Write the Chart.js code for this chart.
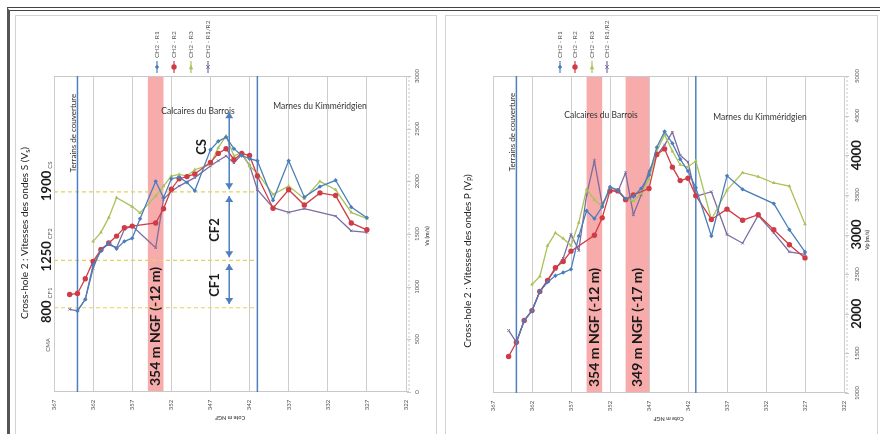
<!DOCTYPE html>
<html>
<head>
<meta charset="utf-8">
<script src="https://cdn.jsdelivr.net/npm/chart.js@4.4.1/dist/chart.umd.min.js"></script>
<style>
    html, body { margin: 0; padding: 0; background: #fff; }
    #page { position: relative; width: 880px; height: 434px; overflow: hidden; background: #fff; }
    #frame { position: absolute; left: 7px; top: 7px; width: 900px; height: 460px; border-top: 4px double #444; border-left: 3px solid #555; }
    .panel { position: absolute; top: 15px; height: 440px; border: 1px solid #d2d2d2; }
    #p1 { left: 15px; width: 420px; }
    #p2 { left: 445px; width: 431px; }
    canvas { position: absolute; top: 0; }
    #chartS { left: 0; }
    #chartP { left: 440px; }
</style>
</head>
<body>
<div id="page">
    <div id="frame"></div>
    <div class="panel" id="p1"></div>
    <div class="panel" id="p2"></div>
    <canvas id="chartS" width="440" height="434"></canvas>
    <canvas id="chartP" width="440" height="434"></canvas>
</div>
<script>
// --- data ---
const seriesNames = ['CH2 - R1', 'CH2 - R2', 'CH2 - R3', 'CH2 - R1/R2'];
const cotesTicks = [367, 362, 357, 352, 347, 342, 337, 332, 327, 322];

// S waves (left chart)
const cotesS = [365, 364, 363, 362, 361, 360, 359, 358, 357, 356, 354, 353, 352, 351, 350, 349, 347, 346, 345, 344, 343, 342, 341, 339, 337, 335, 333, 331, 329, 327];
const vsR1  = [null, 770, 880, 1205, 1340, 1415, 1360, 1430, 1460, 1645, 2000, 1845, 2025, 2040, 1990, 1910, 2300, 2380, 2420, 2310, 2245, 2215, 2195, 1820, 2195, 1850, 1950, 2010, 1755, 1655];
const vsR2  = [925, 935, 1075, 1240, 1350, 1415, 1480, 1560, 1575, null, 1605, 1740, 1925, 2025, 2045, 2070, 2180, 2265, 2310, 2205, 2265, 2245, 2050, 1745, 1920, 1775, 1890, 1865, 1605, 1540];
const vsR3  = [null, null, null, 1430, 1515, 1655, 1845, null, 1760, 1700, 1860, 1955, 2050, 2065, 2050, 2110, 2160, 2320, 2430, 2240, 2275, 2145, 2080, 1875, 1955, 1835, 2000, 1920, 1705, 1645];
const vsR12 = [785, 770, 880, 1175, 1360, 1400, 1370, 1545, 1575, null, 1370, 1830, 1905, 1955, null, 2035, 2145, 2195, 2240, 2175, 2255, 2155, 1920, 1750, 1705, 1740, null, 1670, 1530, 1515];
const vsTicks = [0, 500, 1000, 1500, 2000, 2500, 3000];

// P waves (right chart)
const cotesP = [365, 364, 363, 362, 361, 360, 359, 358, 357, 356, 355, 354, 353, 352, 351, 350, 349, 348, 347, 346, 345, 344, 343, 342, 341, 339, 337, 335, 333, 331, 329, 327];
const vpR1  = [null, 1640, 1915, 2040, 2280, 2400, 2480, 2520, 2560, 2980, 3300, 3200, 3350, 3600, 3560, 3450, 3480, 3580, 3750, 4100, 4300, 4150, 3950, 3800, 3590, 2980, 3740, 3570, null, 3390, 3060, 2780];
const vpR2  = [1460, 1640, 1915, 2040, 2280, 2420, 2580, 2660, 2790, null, null, 2990, 3210, 3550, 3550, 3440, 3500, null, 3580, 4010, 4080, 3850, 3680, 3710, 3490, 3190, 3320, 3180, 3250, 3060, 2870, 2705];
const vpR3  = [null, null, null, 2370, 2470, 2860, 3020, 2950, 2860, 3150, 3570, 3440, 3350, 3590, 3550, 3450, 3420, 3520, 3700, 4050, 4260, 4050, 3880, 3850, 3930, 3190, 3560, 3780, 3730, 3650, 3610, 3130];
const vpR12 = [1790, 1640, 1915, 2040, 2280, 2420, 2560, 2700, 3000, 2800, 3500, 3930, 3380, 3560, 3540, 3780, 3250, 3500, 3800, 4000, 4130, 4290, 4000, 3915, 3480, 3540, 3000, 2890, 3240, 3020, 2780, 2750];
const vpTicks = [1000, 1500, 2000, 2500, 3000, 3500, 4000, 4500, 5000];
const vpBoldTicks = [2000, 3000, 4000];

// geology / annotations
const layerBounds = [364, 341];
const bandsS = [[355, 353]];
const bandsP = [[355, 353], [350, 347]];
const bandLabelsS = ['354 m NGF (-12 m)'];
const bandLabelsP = ['354 m NGF (-12 m)', '349 m NGF (-17 m)'];
const classLevels = [800, 1250, 1900];
const classNames = ['CF1', 'CF2', 'CS'];
const classRanges = [[835, 1215], [1280, 1860], [1925, 2655]];
const classCote = 344.6;

const seriesColors = ['#4a7ebb', '#d03c46', '#a9c25a', '#7d6c9e'];
const pointStyles = ['rectRot', 'circle', 'triangle', 'crossRot'];
const pointSizes = [2.2, 2.7, 2.2, 1.8];
const FONT = 'Lato, "Open Sans", sans-serif';

function vText(ctx, txt, x, y, font, color, align, angle) {
    ctx.save();
    ctx.translate(x, y);
    ctx.rotate(angle === undefined ? -Math.PI / 2 : angle);
    ctx.font = font;
    ctx.fillStyle = color;
    ctx.textAlign = align || 'center';
    ctx.textBaseline = 'middle';
    ctx.fillText(txt, 0, 0);
    ctx.restore();
}

function marker(ctx, i, x, y) {
    const r = pointSizes[i];
    ctx.fillStyle = seriesColors[i];
    ctx.strokeStyle = seriesColors[i];
    ctx.beginPath();
    if (i === 0) { ctx.moveTo(x, y - r); ctx.lineTo(x + r, y); ctx.lineTo(x, y + r); ctx.lineTo(x - r, y); ctx.closePath(); ctx.fill(); }
    else if (i === 1) { ctx.arc(x, y, r, 0, Math.PI * 2); ctx.fill(); }
    else if (i === 2) { ctx.moveTo(x, y - r); ctx.lineTo(x + r, y + r); ctx.lineTo(x - r, y + r); ctx.closePath(); ctx.fill(); }
    else { ctx.lineWidth = 1; ctx.moveTo(x - r, y - r); ctx.lineTo(x + r, y + r); ctx.moveTo(x + r, y - r); ctx.lineTo(x - r, y + r); ctx.stroke(); }
}

function arrowHead(ctx, x, y, dir) {
    ctx.beginPath();
    ctx.moveTo(x, y);
    ctx.lineTo(x - 4, y - dir * 6);
    ctx.lineTo(x + 4, y - dir * 6);
    ctx.closePath();
    ctx.fill();
}

function decor(conf) {
    return {
        id: 'decor',
        beforeDatasetsDraw(chart) {
            const { ctx, chartArea: a, scales: { x, y } } = chart;
            ctx.save();
            // weak zones
            ctx.fillStyle = '#f8abab';
            conf.bands.forEach(b => {
                const x0 = x.getPixelForValue(b[0]), x1 = x.getPixelForValue(b[1]);
                ctx.fillRect(x0, a.top, x1 - x0, a.bottom - a.top);
            });
            // plot frame
            ctx.strokeStyle = '#c8c8c8';
            ctx.lineWidth = 1;
            ctx.beginPath();
            ctx.moveTo(a.left, a.top + 0.5); ctx.lineTo(a.right, a.top + 0.5);
            ctx.moveTo(a.left, a.bottom - 0.5); ctx.lineTo(a.right + 3, a.bottom - 0.5);
            ctx.stroke();
            ctx.setLineDash([2, 2]);
            ctx.beginPath();
            ctx.moveTo(a.right + 3, a.top); ctx.lineTo(a.right + 3, a.bottom);
            ctx.stroke();
            ctx.setLineDash([]);
            ctx.beginPath();
            conf.yTicks.forEach(v => {
                const py = Math.round(y.getPixelForValue(v)) + 0.5;
                ctx.moveTo(a.right + 1, py); ctx.lineTo(a.right + 5, py);
            });
            ctx.stroke();
            // class thresholds
            if (conf.classes) {
                ctx.strokeStyle = '#e2d35c';
                ctx.lineWidth = 1.1;
                ctx.setLineDash([4, 3]);
                classLevels.forEach(v => {
                    const py = y.getPixelForValue(v);
                    ctx.beginPath();
                    ctx.moveTo(x.getPixelForValue(367), py);
                    ctx.lineTo(x.getPixelForValue(layerBounds[1]), py);
                    ctx.stroke();
                });
                ctx.setLineDash([]);
            }
            // band labels
            conf.bandLabels.forEach((t, i) => {
                const cx = (x.getPixelForValue(conf.bands[i][0]) + x.getPixelForValue(conf.bands[i][1])) / 2;
                vText(ctx, t, cx, a.bottom - 6, 'bold 14px ' + FONT, '#1a1a1a', 'left');
            });
            // layer boundaries
            ctx.strokeStyle = '#4f7fbf';
            ctx.lineWidth = 1.5;
            layerBounds.forEach(c => {
                const px = x.getPixelForValue(c);
                ctx.beginPath(); ctx.moveTo(px, a.top); ctx.lineTo(px, a.bottom); ctx.stroke();
            });
            // layer names
            const L = conf.layers;
            vText(ctx, 'Terrains de couverture', L[0][0], L[0][1], '8px ' + FONT, '#333');
            vText(ctx, 'Calcaires du Barrois', L[1][0], L[1][1], '8.5px ' + FONT, '#333', 'center', 0);
            vText(ctx, 'Marnes du Kimméridgien', L[2][0], L[2][1], '8.5px ' + FONT, '#333', 'center', 0);
            ctx.restore();
        },
        afterDatasetsDraw(chart) {
            if (!conf.classes) return;
            const { ctx, scales: { x, y } } = chart;
            ctx.save();
            const px = x.getPixelForValue(classCote);
            ctx.strokeStyle = '#4f7fbf';
            ctx.fillStyle = '#4f7fbf';
            ctx.lineWidth = 1.5;
            classRanges.forEach((r, i) => {
                const y0 = y.getPixelForValue(r[0]), y1 = y.getPixelForValue(r[1]);
                ctx.beginPath(); ctx.moveTo(px, y0); ctx.lineTo(px, y1); ctx.stroke();
                arrowHead(ctx, px, y0, 1);
                arrowHead(ctx, px, y1, -1);
                const lp = conf.classLabelPos[i];
                vText(ctx, classNames[i], lp[0], lp[1], 'bold 13px ' + FONT, '#1a1a1a');
            });
            ctx.restore();
        },
        afterDraw(chart) {
            const { ctx, chartArea: a, scales: { x, y } } = chart;
            ctx.save();
            // axis ticks
            cotesTicks.forEach(v => vText(ctx, String(v), x.getPixelForValue(v), a.bottom + 13, '6px ' + FONT, '#555'));
            vText(ctx, 'Cote m NGF', (a.left + a.right) / 2, a.bottom + 26, 'bold 5.5px ' + FONT, '#555', 'center', Math.PI);
            conf.yTicks.forEach(v => {
                if (conf.boldTicks && conf.boldTicks.includes(v)) return;
                vText(ctx, String(v), conf.yTickX, y.getPixelForValue(v), '6px ' + FONT, '#555');
            });
            (conf.boldTicks || []).forEach(v => vText(ctx, String(v), conf.yTickX, y.getPixelForValue(v), 'bold 13px ' + FONT, '#1a1a1a'));
            vText(ctx, conf.yTitle, conf.yTickX + 10, conf.yTitleY, 'bold 5.5px ' + FONT, '#555');
            // chart title with subscript
            ctx.translate(conf.titleX, conf.titleY);
            ctx.rotate(-Math.PI / 2);
            ctx.textBaseline = 'middle';
            ctx.fillStyle = '#222';
            const big = '10px ' + FONT, small = '7px ' + FONT;
            ctx.font = big;
            const w1 = ctx.measureText(conf.title[0]).width, w3 = ctx.measureText(')').width;
            ctx.font = small;
            const w2 = ctx.measureText(conf.title[1]).width;
            let sx = -(w1 + w2 + w3) / 2;
            ctx.font = big; ctx.textAlign = 'left';
            ctx.fillText(conf.title[0], sx, 0);
            ctx.font = small; ctx.fillText(conf.title[1], sx + w1, 3);
            ctx.font = big; ctx.fillText(')', sx + w1 + w2, 0);
            ctx.setTransform(1, 0, 0, 1, 0, 0);
            // class levels on the left
            if (conf.classes) {
                classLevels.forEach((v, i) => {
                    const py = y.getPixelForValue(v) + conf.levelShift[i];
                    ctx.font = 'bold 13px ' + FONT;
                    const w = ctx.measureText(String(v)).width;
                    vText(ctx, String(v), 47, py, 'bold 13px ' + FONT, '#1a1a1a');
                    vText(ctx, classNames[i], 50, py - w / 2 - 2, '6px ' + FONT, '#555', 'left');
                });
                vText(ctx, 'CMA', 48, 345, '6px ' + FONT, '#555');
            }
            // legend
            conf.legendX.forEach((lx, i) => {
                ctx.strokeStyle = seriesColors[i];
                ctx.lineWidth = 1.2;
                ctx.beginPath(); ctx.moveTo(lx, 73); ctx.lineTo(lx, 61); ctx.stroke();
                marker(ctx, i, lx, 67);
                vText(ctx, seriesNames[i], lx, 58, '6.5px ' + FONT, '#555', 'left');
            });
            ctx.restore();
        }
    };
}

function buildChart(canvas, conf) {
    return new Chart(canvas, {
        type: 'line',
        data: {
            datasets: conf.series.map((vals, i) => ({
                label: seriesNames[i],
                data: conf.cotes.map((c, j) => ({ x: c, y: vals[j] })),
                borderColor: seriesColors[i],
                backgroundColor: seriesColors[i],
                borderWidth: 1.3,
                pointStyle: pointStyles[i],
                pointRadius: pointSizes[i],
                pointBorderWidth: i === 3 ? 1 : 0,
                spanGaps: true,
                tension: 0
            }))
        },
        options: {
            responsive: false,
            animation: false,
            layout: { padding: conf.padding },
            plugins: { legend: { display: false }, tooltip: { enabled: false } },
            scales: {
                x: {
                    type: 'linear', min: 322, max: 367, reverse: true,
                    afterBuildTicks: s => { s.ticks = cotesTicks.map(v => ({ value: v })); },
                    ticks: { display: false },
                    grid: { color: '#cdcdcd', drawTicks: false },
                    border: { display: false }
                },
                y: { display: false, min: conf.yMin, max: conf.yMax }
            }
        },
        plugins: [decor(conf)]
    });
}

document.addEventListener("DOMContentLoaded", () => {

    // --- Chart 1: S waves ---
    buildChart(document.getElementById("chartS"), {
        cotes: cotesS, series: [vsR1, vsR2, vsR3, vsR12],
        yMin: 0, yMax: 3000, yTicks: vsTicks,
        padding: { left: 54, right: 34, top: 76, bottom: 42 },
        bands: bandsS, bandLabels: bandLabelsS,
        layers: [[73, 133], [198, 111], [320, 106]],
        classes: true,
        classLabelPos: [[215, 285], [215, 230], [202, 147]],
        levelShift: [4, -4, -6],
        yTickX: 417, yTitle: 'Vs (m/s)', yTitleY: 236,
        title: ['Cross-hole 2 : Vitesses des ondes S (V', 's', ')'], titleX: 25, titleY: 233,
        legendX: [157, 174, 191, 208]
    });

    // --- Chart 2: P waves ---
    buildChart(document.getElementById("chartP"), {
        cotes: cotesP, series: [vpR1, vpR2, vpR3, vpR12],
        yMin: 1000, yMax: 5000, yTicks: vpTicks, boldTicks: vpBoldTicks,
        padding: { left: 53, right: 36, top: 76, bottom: 41 },
        bands: bandsP, bandLabels: bandLabelsP,
        layers: [[72, 132], [161, 115], [320, 117]],
        classes: false,
        yTickX: 417, yTitle: 'Vp (m/s)', yTitleY: 240,
        title: ['Cross-hole 2 : Vitesses des ondes P (V', 'P', ')'], titleX: 28, titleY: 261,
        legendX: [120, 135, 152, 167]
    });
});
</script>
</body>
</html>
